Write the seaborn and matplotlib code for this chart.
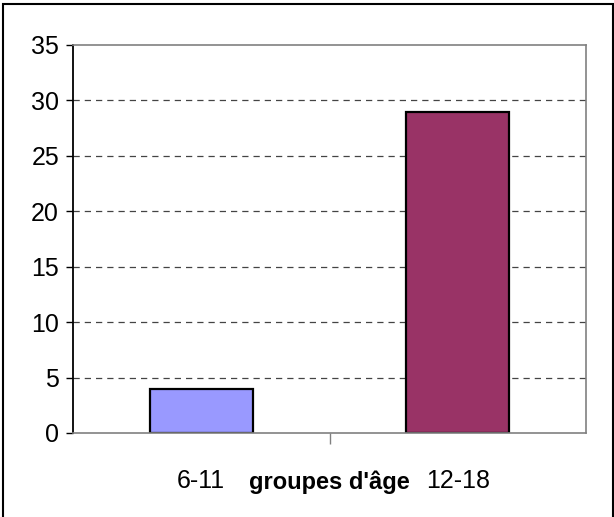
import matplotlib
matplotlib.use("Agg")
import matplotlib.pyplot as plt
import seaborn as sns
import pandas as pd
from matplotlib.patches import Rectangle

groups = ["6-11", "12-18"]
counts = [4, 29]
bar_colors = ["#9999FF", "#993366"]
y_ticks = [0, 5, 10, 15, 20, 25, 30, 35]

sns.set_theme(style="white")
plt.rcParams["font.family"] = ["Liberation Sans Narrow", "Liberation Sans", "DejaVu Sans"]
plt.rcParams["text.color"] = "black"
plt.rcParams["xtick.color"] = "black"
plt.rcParams["ytick.color"] = "black"

df = pd.DataFrame({"groupe": groups, "n": counts})

fig = plt.figure(figsize=(6.14, 5.17), dpi=100)
ax = fig.add_axes([73 / 614, 1 - 433 / 517, 513 / 614, 388 / 517])

sns.barplot(data=df, x="groupe", y="n", hue="groupe", palette=bar_colors,
            width=0.4, edgecolor="black", linewidth=1.6, legend=False,
            saturation=1, ax=ax)

ax.set_ylim(0, 35)
ax.set_xlim(-0.5, 1.5)
ax.set_yticks(y_ticks)
ax.set_yticklabels([str(t) for t in y_ticks], fontsize=18)
ax.set_xticks([0, 1])
ax.set_xticklabels(groups, fontsize=18)
ax.set_xticks([0.5], minor=True)
ax.tick_params(axis="x", which="major", length=0, pad=26, labelcolor="black")
ax.tick_params(axis="x", which="minor", length=8, width=1, color="#808080", bottom=True)
ax.tick_params(axis="y", which="major", length=5, width=1, color="black", left=True,
               pad=5, labelcolor="black")

for y in y_ticks[1:-1]:
    ax.axhline(y, color="#444444", linestyle=(0, (5, 4)), linewidth=0.9, zorder=0)

for side in ["top", "right", "bottom"]:
    ax.spines[side].set_color("#808080")
    ax.spines[side].set_linewidth(1.2)
ax.spines["left"].set_color("black")
ax.spines["left"].set_linewidth(1.3)

ax.set_ylabel("")
ax.set_xlabel("")
ax.text(0.5, -49 / 388, "groupes d'âge", transform=ax.transAxes, ha="center",
        va="center", fontsize=17, fontweight="bold", color="black")

fig.patches.append(Rectangle((3 / 614, -0.05), 610 / 614, 1.05 - 4 / 517,
                             transform=fig.transFigure, fill=False,
                             edgecolor="black", linewidth=1.5))

fig.savefig("out.png", dpi=100)
